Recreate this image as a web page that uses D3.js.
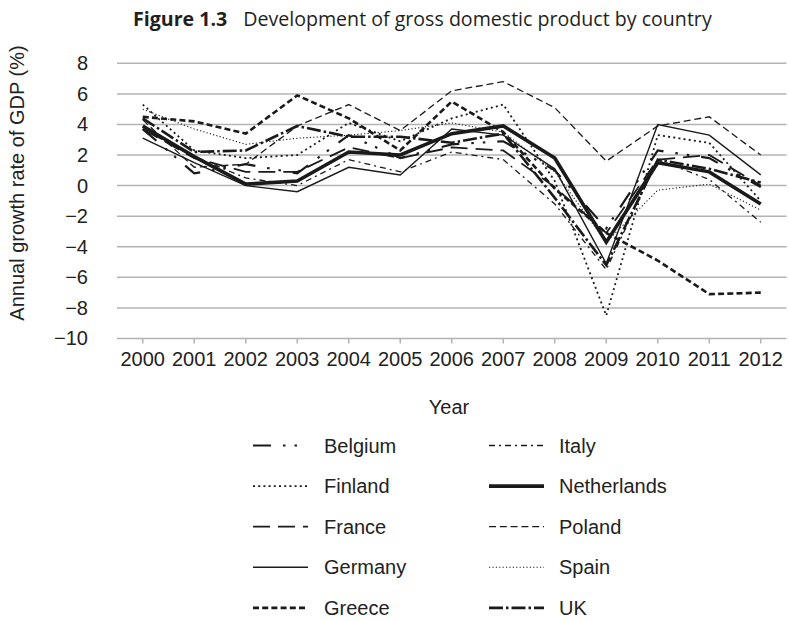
<!DOCTYPE html>
<html>
<head>
<meta charset="utf-8">
<script src="https://cdn.jsdelivr.net/npm/d3@7"></script>
<style>
  html, body { margin: 0; padding: 0; background: #fff; }
  svg { display: block; }
</style>
</head>
<body>
<svg id="chart" width="789" height="621"></svg>
<script>
const years = ["2000","2001","2002","2003","2004","2005","2006","2007","2008","2009","2010","2011","2012"];
const yTicks = [8, 6, 4, 2, 0, -2, -4, -6, -8, -10];

const belgium     = [3.7, 0.8, 1.4, 0.8, 3.3, 1.8, 2.7, 2.9, 1.0, -2.8, 2.3, 1.8, -0.1];
const finland     = [5.3, 2.3, 1.8, 2.0, 4.1, 2.9, 4.4, 5.3, 0.3, -8.5, 3.3, 2.8, -1.0];
const france      = [3.7, 1.8, 0.9, 0.9, 2.5, 1.8, 2.5, 2.3, -0.1, -3.1, 1.7, 2.0, 0.0];
const germany     = [3.1, 1.5, 0.0, -0.4, 1.2, 0.7, 3.7, 3.3, 1.1, -5.1, 4.0, 3.3, 0.7];
const greece      = [4.5, 4.2, 3.4, 5.9, 4.4, 2.3, 5.5, 3.5, -0.2, -3.1, -4.9, -7.1, -7.0];
const italy       = [3.7, 1.9, 0.5, 0.0, 1.7, 0.9, 2.2, 1.7, -1.2, -5.5, 1.7, 0.4, -2.4];
const netherlands = [3.9, 1.9, 0.1, 0.3, 2.2, 2.0, 3.4, 3.9, 1.8, -3.7, 1.5, 0.9, -1.2];
const poland      = [4.3, 1.2, 1.4, 3.9, 5.3, 3.6, 6.2, 6.8, 5.1, 1.6, 3.9, 4.5, 2.0];
const spain       = [5.0, 3.7, 2.7, 3.1, 3.3, 3.6, 4.1, 3.5, 0.9, -3.7, -0.3, 0.1, -1.6];
const uk          = [4.4, 2.2, 2.3, 3.9, 3.2, 3.2, 2.8, 3.4, -0.8, -5.2, 1.7, 1.1, 0.2];

const countries = ["Belgium","Finland","France","Germany","Greece","Italy","Netherlands","Poland","Spain","UK"];
const values = [belgium, finland, france, germany, greece, italy, netherlands, poland, spain, uk];

const styles = {
  Belgium:     { w: 2.2, dash: "18,12,2.5,9,2.5,12" },
  Finland:     { w: 1.8, dash: "2,3.2" },
  France:      { w: 1.8, dash: "17,8" },
  Germany:     { w: 1.4, dash: null },
  Greece:      { w: 2.6, dash: "6,3.2" },
  Italy:       { w: 1.3, dash: "6,4,2,4" },
  Netherlands: { w: 3.6, dash: null },
  Poland:      { w: 1.3, dash: "7,3.8" },
  Spain:       { w: 1.1, dash: "1.2,2.2" },
  UK:          { w: 2.6, dash: "14,3,2.5,3" }
};

const svg = d3.select("#chart");
const font = "'Liberation Sans', Arial, sans-serif";
const lineColor = "#1a1a1a";

const x = d3.scaleBand().domain(years).range([117, 786.5]).padding(0);
const cx = d => x(d) + x.bandwidth() / 2;
const y = d3.scaleLinear().domain([-10, 8]).range([338.5, 63.3]);

// Title
const title = svg.append("text")
  .attr("x", 133).attr("y", 26)
  .attr("font-family", "'Open Sans', 'Noto Sans', sans-serif")
  .attr("font-size", 19.6).attr("fill", "#231f20");
title.append("tspan").attr("font-weight", "bold").text("Figure 1.3");
title.append("tspan").attr("dx", 16).text("Development of gross domestic product by country");

// Gridlines
svg.append("g").selectAll("line").data(yTicks).join("line")
  .attr("x1", 117).attr("x2", 786.5)
  .attr("y1", d => y(d)).attr("y2", d => y(d))
  .attr("stroke", "#b3b3b3").attr("stroke-width", 1.5);

// Y axis labels
const yAxis = d3.axisLeft(y).tickValues(yTicks).tickSize(0).tickPadding(0)
  .tickFormat(d => d < 0 ? "\u2212" + Math.abs(d) : String(d));
const yg = svg.append("g").attr("transform", "translate(88,0)").call(yAxis);
yg.select(".domain").remove();
yg.selectAll("text").attr("font-family", font).attr("font-size", 20).attr("fill", "#222");

// X axis
const xAxis = d3.axisBottom(x).tickSize(5).tickPadding(8);
const xg = svg.append("g").attr("transform", `translate(0,${y(-10)})`).call(xAxis);
xg.select(".domain").remove();
xg.selectAll(".tick line").attr("stroke", "#b3b3b3").attr("stroke-width", 1.5);
xg.selectAll("text").attr("font-family", font).attr("font-size", 20).attr("fill", "#222");

// Axis titles
svg.append("text").attr("transform", "translate(24,183) rotate(-90)")
  .attr("text-anchor", "middle").attr("font-family", font).attr("font-size", 20)
  .attr("fill", "#222").text("Annual growth rate of GDP (%)");
svg.append("text").attr("x", 449).attr("y", 414)
  .attr("text-anchor", "middle").attr("font-family", font).attr("font-size", 20)
  .attr("fill", "#222").text("Year");

// Lines
const line = d3.line().x((d, i) => cx(years[i])).y(d => y(d));
svg.append("g").selectAll("path").data(countries).join("path")
  .attr("d", (c, i) => line(values[i]))
  .attr("fill", "none")
  .attr("stroke", lineColor)
  .attr("stroke-width", c => styles[c].w)
  .attr("stroke-dasharray", c => styles[c].dash)
  .attr("stroke-linejoin", "miter");

// Legend
const leg = svg.append("g");
countries.forEach((c, i) => {
  const col = Math.floor(i / 5), row = i % 5;
  const lx = col === 0 ? 253 : 489;
  const ly = 445.5 + row * 40.6;
  leg.append("line").attr("x1", lx).attr("x2", lx + 55).attr("y1", ly).attr("y2", ly)
    .attr("stroke", lineColor).attr("stroke-width", styles[c].w)
    .attr("stroke-dasharray", styles[c].dash);
  leg.append("text").attr("x", col === 0 ? 324 : 559).attr("y", ly + 7)
    .attr("font-family", font).attr("font-size", 20).attr("fill", "#222").text(c);
});
</script>
</body>
</html>
